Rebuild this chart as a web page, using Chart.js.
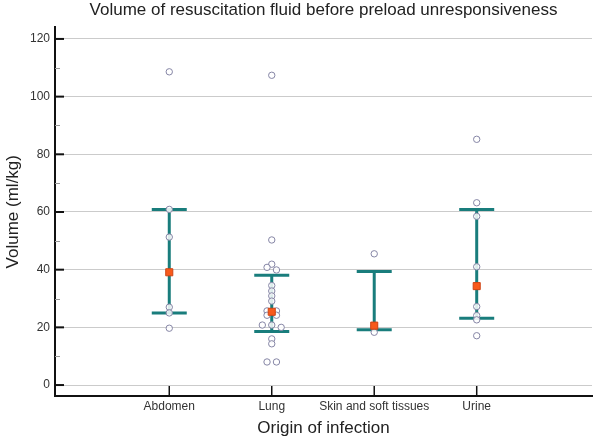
<!DOCTYPE html>
<html>
<head>
<meta charset="utf-8">
<script src="https://cdn.jsdelivr.net/npm/chart.js@4.4.1/dist/chart.umd.min.js"></script>
<style>
  html, body { margin: 0; padding: 0; background: #fff; }
</style>
</head>
<body>
<canvas id="chart" width="597" height="442"></canvas>
<script>
// Categories and readings (ml/kg) per origin of infection
const categories = ['Abdomen', 'Lung', 'Skin and soft tissues', 'Urine'];
const abdomenVals = [108.6, 60.9, 51.3, 27.0, 25.0, 19.7];
const lungVals = [107.4, 50.3, 41.9, 40.8, 39.9, 34.5, 32.6, 30.9, 29.1, 25.7, 25.7,
                  24.2, 24.2, 20.8, 20.8, 20.0, 16.0, 14.3, 8.0, 8.0];
const skinVals = [45.5, 20.6, 18.3];
const urineVals = [85.2, 63.2, 58.5, 41.0, 27.2, 24.1, 22.6, 17.1];
// median and interquartile range
const medians = [39.1, 25.4, 20.6, 34.3];
const q1 = [25.0, 18.6, 19.2, 23.2];
const q3 = [60.9, 38.1, 39.4, 60.9];
// axis ticks
const yTicks = [0, 20, 40, 60, 80, 100, 120];
const yMinorTicks = [10, 30, 50, 70, 90, 110];

const teal = '#197d7c';
Chart.defaults.font.family = "'Liberation Sans', Arial, sans-serif";

//spreads near-equal values sideways so the circles don't sit on top of each other
function spread(vals, cat) {
  const sorted = [...vals].sort((a, b) => b - a);
  const out = [];
  let group = [];
  const flush = () => {
    group.forEach((v, k) => out.push({ x: cat + (k - (group.length - 1) / 2) * 0.092, y: v }));
    group = [];
  };
  sorted.forEach(v => {
    if (group.length && group[group.length - 1] - v >= 1.0) flush();
    group.push(v);
  });
  flush();
  return out;
}

const allVals = [abdomenVals, lungVals, skinVals, urineVals];
const dotData = allVals.flatMap((vals, i) => spread(vals, i + 1));

//vertical IQR lines, null breaks the line between categories
const whiskerData = categories.flatMap((c, i) => [
  { x: i + 1, y: q1[i] }, { x: i + 1, y: q3[i] }, { x: i + 1.5, y: null }
]);
const capData = categories.flatMap((c, i) => [{ x: i + 1, y: q1[i] }, { x: i + 1, y: q3[i] }]);
const medianData = medians.map((m, i) => ({ x: i + 1, y: m }));

// ticks pointing into the plot area
const innerTicks = {
  id: 'innerTicks',
  afterDraw(chart) {
    const { ctx, chartArea: a, scales: { x, y } } = chart;
    ctx.save();
    ctx.strokeStyle = '#111';
    ctx.lineWidth = 2;
    yTicks.forEach(v => {
      const p = y.getPixelForValue(v);
      ctx.beginPath(); ctx.moveTo(a.left, p); ctx.lineTo(a.left + 9, p); ctx.stroke();
    });
    ctx.strokeStyle = '#999';
    ctx.lineWidth = 1;
    yMinorTicks.forEach(v => {
      const p = Math.round(y.getPixelForValue(v)) + 0.5;
      ctx.beginPath(); ctx.moveTo(a.left, p); ctx.lineTo(a.left + 5, p); ctx.stroke();
    });
    ctx.strokeStyle = '#111';
    ctx.lineWidth = 1.5;
    categories.forEach((c, i) => {
      const p = x.getPixelForValue(i + 1);
      ctx.beginPath(); ctx.moveTo(p, a.bottom); ctx.lineTo(p, a.bottom - 10); ctx.stroke();
    });
    ctx.restore();
  }
};

new Chart(document.getElementById('chart'), {
  type: 'scatter',
  data: {
    datasets: [
      {
        label: 'Medians',
        data: medianData,
        pointStyle: 'rect',
        pointRadius: 5,
        backgroundColor: '#f85a1b',
        borderColor: '#cf4515',
        borderWidth: 1,
        order: 0
      },
      {
        label: 'Patients',
        data: dotData,
        pointRadius: 3.2,
        borderWidth: 1,
        borderColor: '#8585a5',
        backgroundColor: 'rgba(255,255,255,0.85)',
        order: 1
      },
      {
        type: 'line',
        label: 'IQR',
        data: whiskerData,
        borderColor: teal,
        borderWidth: 3,
        pointRadius: 0,
        spanGaps: false,
        order: 2
      },
      {
        label: 'Caps',
        data: capData,
        pointStyle: 'line',
        pointRadius: 17.5,
        borderColor: teal,
        borderWidth: 3,
        order: 2
      }
    ]
  },
  options: {
    responsive: false,
    animation: false,
    events: [],
    layout: { autoPadding: false, padding: { left: 0, right: 5, top: 0, bottom: 0 } },
    plugins: {
      legend: { display: false },
      tooltip: { enabled: false },
      title: {
        display: true,
        text: 'Volume of resuscitation fluid before preload unresponsiveness',
        fullSize: false,
        color: '#222',
        font: { size: 17, weight: 'normal' },
        padding: { top: 0, bottom: 7 }
      }
    },
    scales: {
      x: {
        type: 'linear',
        min: -0.115,
        max: 5.125,
        afterBuildTicks: s => { s.ticks = categories.map((c, i) => ({ value: i + 1 })); },
        afterFit: s => { s.height = 46; s.paddingLeft = 0; s.paddingRight = 0; },
        ticks: {
          callback: v => categories[Math.round(v) - 1],
          autoSkip: false,
          maxRotation: 0,
          color: '#333',
          font: { size: 12 },
          padding: 3
        },
        grid: { display: false, drawTicks: false },
        border: { display: true, color: '#111', width: 2 },
        title: {
          display: true,
          text: 'Origin of infection',
          color: '#222',
          font: { size: 17 },
          padding: { top: 0, bottom: 3 }
        }
      },
      y: {
        type: 'linear',
        min: -3.8,
        max: 124,
        afterBuildTicks: s => { s.ticks = yTicks.map(v => ({ value: v })); },
        afterFit: s => { s.width = 55; s.paddingTop = 0; s.paddingBottom = 0; },
        ticks: { color: '#333', font: { size: 12 }, padding: 5 },
        grid: { color: '#cbcbcb', lineWidth: 1, drawTicks: false },
        border: { display: true, color: '#111', width: 2 },
        title: {
          display: true,
          text: 'Volume (ml/kg)',
          color: '#222',
          font: { size: 17 },
          padding: { top: 3, bottom: 0 }
        }
      }
    }
  },
  plugins: [innerTicks]
});
</script>
</body>
</html>
